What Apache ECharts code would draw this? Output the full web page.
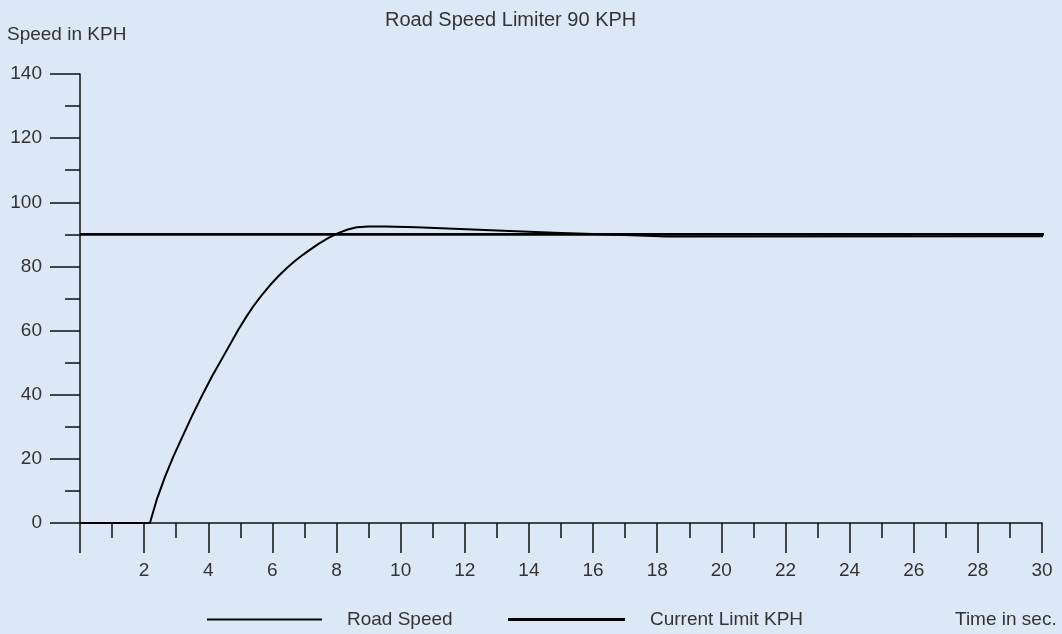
<!DOCTYPE html>
<html>
<head>
<meta charset="utf-8">
<script src="https://cdn.jsdelivr.net/npm/echarts@6/dist/echarts.min.js"></script>
<style>
html,body{margin:0;padding:0;background:#dde8f6;}
#c{width:1062px;height:634px;}
</style>
</head>
<body>
<div id="c"></div>
<script>
// Data
const titleText = 'Road Speed Limiter 90 KPH';
const yAxisName = 'Speed in KPH';
const xAxisName = 'Time in sec.';
const seriesNames = ['Road Speed', 'Current Limit KPH'];
const roadSpeed = [
  [0,0],[2.18,0],[2.39,7.2],[2.65,14.4],[2.91,20.7],[3.17,26.4],[3.48,33.1],[3.79,39.4],
  [4.11,45.6],[4.5,52.5],[4.95,60.5],[5.2,64.5],[5.4,67.5],[5.65,70.8],[5.93,74.2],[6.2,77.1],
  [6.45,79.5],[6.7,81.7],[6.96,83.7],[7.2,85.4],[7.45,87.1],[7.75,88.9],[8.05,90.4],
  [8.35,91.5],[8.63,92.2],[9.0,92.45],[9.5,92.45],[10.5,92.2],[11.85,91.7],[13,91.2],
  [14,90.8],[15,90.4],[16,90.1],[17.2,89.7],[18.3,89.3],[30.15,89.4]
];
const currentLimit = [[0,90],[30.15,90]];
const xRange = [0, 30];
const yRange = [0, 140];

const txt = '#333';
const ink = '#111';
const font = 'Liberation Sans, Arial, Helvetica, sans-serif';

const chart = echarts.init(document.getElementById('c'));
chart.setOption({
  animation: false,
  backgroundColor: '#dde8f6',
  textStyle: {fontFamily: font},
  title: {text: titleText, left: 380, top: 5,
    textStyle: {fontSize: 20, fontWeight: 'normal', color: txt, fontFamily: font}},
  grid: {left: 80, right: 20, top: 74, bottom: 111},
  legend: [
    {data: [{name: seriesNames[0], icon: 'rect'}], left: 202, top: 605, itemWidth: 115, itemHeight: 2,
     padding: 5, textStyle: {fontSize: 19, color: txt, padding: [0,0,0,20]}},
    {data: [{name: seriesNames[1], icon: 'rect'}], left: 503, top: 605, itemWidth: 117, itemHeight: 3,
     padding: 5, textStyle: {fontSize: 19, color: txt, padding: [0,0,0,20]}}
  ],
  graphic: [
    {type: 'text', left: 7, top: 25, style: {text: yAxisName, fontSize: 19, fill: txt, fontFamily: font}},
    {type: 'text', left: 955, top: 610, style: {text: xAxisName, fontSize: 19, fill: txt, fontFamily: font}}
  ],
  xAxis: {
    type: 'value', min: xRange[0], max: xRange[1], interval: 2,
    axisLine: {show: true, onZero: false, lineStyle: {color: ink, width: 1.5}},
    axisTick: {show: true, length: 30, lineStyle: {color: ink, width: 1.5}},
    minorTick: {show: true, splitNumber: 2, length: 15, lineStyle: {color: ink, width: 1.5}},
    splitLine: {show: false},
    axisLabel: {margin: 38, fontSize: 19, color: txt, formatter: v => v === 0 ? '' : String(v), showMinLabel: true, showMaxLabel: true}
  },
  yAxis: {
    type: 'value', min: yRange[0], max: yRange[1], interval: 20,
    axisLine: {show: true, lineStyle: {color: ink, width: 1.5}},
    axisTick: {show: true, length: 30, lineStyle: {color: ink, width: 1.5}},
    minorTick: {show: true, splitNumber: 2, length: 15, lineStyle: {color: ink, width: 1.5}},
    splitLine: {show: false},
    axisLabel: {margin: 38, fontSize: 19, color: txt}
  },
  series: [
    {name: seriesNames[0], type: 'line', data: roadSpeed, showSymbol: false, symbol: 'none',
     clip: false, smooth: false,
     lineStyle: {color: '#000', width: 2, join: 'round'}, itemStyle: {color: '#000'}},
    {name: seriesNames[1], type: 'line', data: currentLimit, showSymbol: false, symbol: 'none',
     clip: false, lineStyle: {color: '#000', width: 2.6}, itemStyle: {color: '#000'}}
  ]
});
</script>
</body>
</html>
